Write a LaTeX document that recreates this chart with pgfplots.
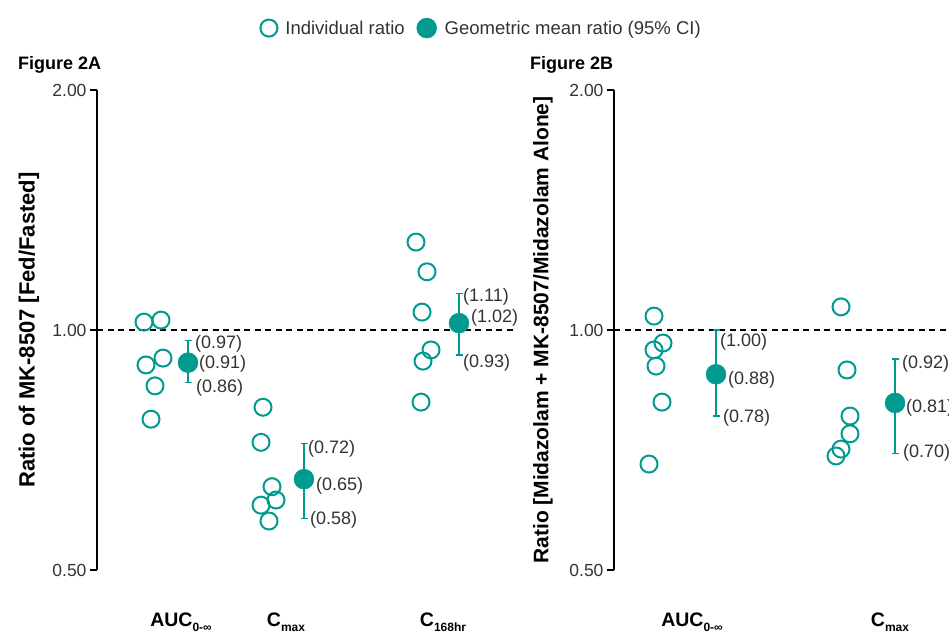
\documentclass[border=0pt]{standalone}
\usepackage{pgfplots}
\pgfplotsset{compat=1.18}
\usepackage{fontspec}
\setmainfont{Liberation Sans}
\definecolor{tealc}{HTML}{009A8E}
\definecolor{txt}{HTML}{333333}
\newcommand{\sub}[1]{\raisebox{-5pt}{\fontsize{12}{12}\selectfont #1}}
\pgfplotsset{
 myaxis/.style={
  scale only axis, height=480pt, ymin=0.5, ymax=2,
  ytick={0.5,1,2}, yticklabels={0.50,1.00,2.00},
  axis x line=bottom, axis y line=left,
  x axis line style={draw=none},
  y axis line style={-, line width=1.9pt, black},
  xtick style={draw=none},
  ytick style={line width=1.9pt, black},
  tick align=outside, major tick length=7pt,
  yticklabel style={font=\fontsize{17.5}{17.5}\selectfont, text=txt},
  xticklabel style={font=\fontsize{19.5}{19.5}\selectfont\bfseries, anchor=base, yshift=-49pt},
  ylabel style={anchor=center},
  clip=false,
 },
 indiv/.style={only marks, mark=o, mark size=8.5pt, tealc, line width=2pt, mark options={line width=2pt}},
 gm/.style={only marks, mark=*, mark size=10pt, tealc, mark options={fill=tealc, draw=tealc}},
 ci/.style={tealc, line width=1.3pt, mark=-, mark size=3.5pt, mark options={line width=1.3pt}},
 refl/.style={black, line width=1.8pt, dash pattern=on 6pt off 4.5pt},
}
\tikzset{ann/.style={anchor=west, inner sep=0pt, font=\fontsize{18}{18}\selectfont, text=txt}}
\begin{document}
\begin{tikzpicture}[x=1pt,y=1pt]
\useasboundingbox (0,0) rectangle (949,636);
\node[anchor=base west, inner sep=0pt, font=\fontsize{18}{18}\selectfont\bfseries] at (18,566) {Figure 2A};
\node[anchor=base west, inner sep=0pt, font=\fontsize{18}{18}\selectfont\bfseries] at (530,566) {Figure 2B};

\begin{axis}[ymode=log, log basis y=2, myaxis, at={(97pt,66pt)}, anchor=south west, width=418pt,
  xmin=97, xmax=515, xtick={181,286,443},
  xticklabels={AUC\sub{0-∞}, C\sub{max}, C\sub{168hr}},
  ylabel={Ratio of MK-8507 [Fed/Fasted]},
  ylabel style={at={(axis description cs:-0.1627,0.5)}, font=\fontsize{22}{22}\selectfont\bfseries},
  legend style={draw=none, fill=none, at={(axis description cs:0.9200,1.129)}, anchor=center,
    legend columns=-1, font=\fontsize{18.5}{18.5}\selectfont, text=txt,
    /tikz/every even column/.append style={column sep=10pt},
    /tikz/every odd column/.append style={column sep=6pt}},
  ]
\addlegendimage{indiv}
\addlegendentry{Individual ratio}
\addlegendimage{gm}
\addlegendentry{Geometric mean ratio (95\% CI)}
\addplot[refl] coordinates {(97,1) (515,1)};
\addplot[indiv] coordinates {(144,1.023) (161,1.029) (146,0.904) (163,0.922) (155,0.851) (151,0.773)};
\addplot[indiv] coordinates {(263,0.80) (261,0.723) (272,0.636) (276,0.612) (261,0.603) (269,0.576)};
\addplot[indiv] coordinates {(416,1.289) (427,1.183) (422,1.053) (431,0.944) (423,0.914) (421,0.812)};
\addplot[ci] coordinates {(188,0.86) (188,0.97)};
\addplot[ci] coordinates {(304,0.58) (304,0.72)};
\addplot[ci] coordinates {(459,0.93) (459,1.11)};
\addplot[gm] coordinates {(188,0.91) (304,0.65) (459,1.02)};
\node[ann] at (axis cs:195,0.960) {(0.97)};
\node[ann] at (axis cs:199,0.906) {(0.91)};
\node[ann] at (axis cs:196,0.846) {(0.86)};
\node[ann] at (axis cs:308,0.709) {(0.72)};
\node[ann] at (axis cs:316,0.637) {(0.65)};
\node[ann] at (axis cs:310,0.578) {(0.58)};
\node[ann] at (axis cs:463,1.100) {(1.11)};
\node[ann] at (axis cs:471,1.035) {(1.02)};
\node[ann] at (axis cs:463,0.909) {(0.93)};
\end{axis}

\begin{axis}[ymode=log, log basis y=2, myaxis, at={(614pt,66pt)}, anchor=south west, width=335pt,
  xmin=614, xmax=949, xtick={692,890},
  xticklabels={AUC\sub{0-∞}, C\sub{max}},
  ylabel={Ratio [Midazolam + MK-8507/Midazolam Alone]},
  ylabel style={at={(axis description cs:-0.2119,0.5)}, font=\fontsize{21}{21}\selectfont\bfseries},
  ]
\addplot[refl] coordinates {(614,1) (949,1)};
\addplot[indiv] coordinates {(654,1.041) (663,0.963) (654,0.944) (656,0.901) (662,0.812) (649,0.679)};
\addplot[indiv] coordinates {(841,1.069) (847,0.891) (850,0.780) (850,0.741) (841,0.709) (836,0.695)};
\addplot[ci] coordinates {(716,0.78) (716,1.00)};
\addplot[ci] coordinates {(895,0.70) (895,0.92)};
\addplot[gm] coordinates {(716,0.88) (895,0.81)};
\node[ann] at (axis cs:720,0.966) {(1.00)};
\node[ann] at (axis cs:728,0.866) {(0.88)};
\node[ann] at (axis cs:723,0.776) {(0.78)};
\node[ann] at (axis cs:902,0.906) {(0.92)};
\node[ann] at (axis cs:906,0.798) {(0.81)};
\node[ann] at (axis cs:903,0.701) {(0.70)};
\end{axis}
\end{tikzpicture}
\end{document}
